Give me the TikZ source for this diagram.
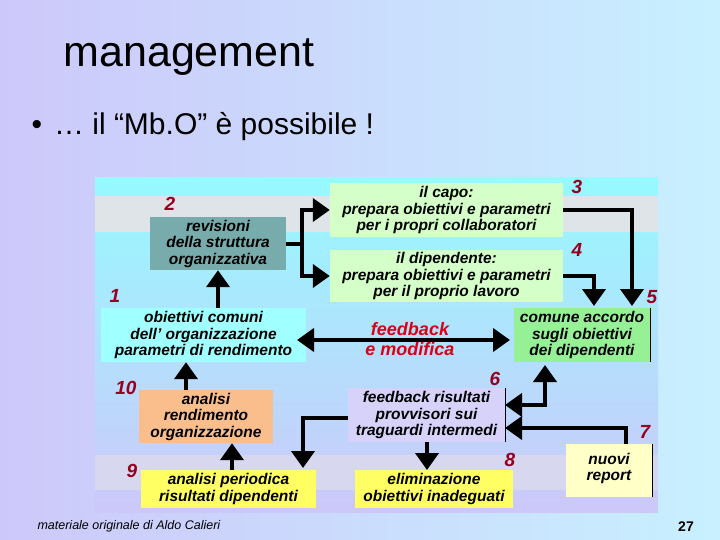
\documentclass[tikz,border=0pt]{standalone}
\usepackage{fontspec}
\setmainfont{Liberation Sans}
\usetikzlibrary{arrows.meta}
\definecolor{numc}{RGB}{150,0,30}
\definecolor{bgl}{RGB}{205,200,250}
\definecolor{bgr}{RGB}{200,240,255}
\definecolor{pt}{RGB}{150,250,255}
\definecolor{pb}{RGB}{205,200,250}
\definecolor{band1}{RGB}{222,228,232}
\definecolor{band2}{RGB}{215,215,240}
\definecolor{crev}{RGB}{120,172,172}
\definecolor{cgreen}{RGB}{212,255,200}
\definecolor{ccyan}{RGB}{160,255,255}
\definecolor{cacc}{RGB}{150,240,150}
\definecolor{cred}{RGB}{220,0,20}
\definecolor{corange}{RGB}{250,190,140}
\definecolor{clav}{RGB}{215,210,250}
\definecolor{cyel}{RGB}{255,255,100}
\definecolor{cpale}{RGB}{255,255,200}
\begin{document}
\begin{tikzpicture}[x=1pt,y=-1pt,
  bx/.style={inner sep=0pt,align=center,font=\bfseries\itshape\fontsize{15.5}{16.5}\selectfont},
  num/.style={text=numc,font=\bfseries\itshape\fontsize{19}{19}\selectfont},
  arr/.style={line width=4pt,-{Triangle[length=17pt,width=23pt]}},
  ln/.style={line width=4pt}]
\useasboundingbox (0,0) rectangle (720,540);
\shade[left color=bgl,right color=bgr] (0,0) rectangle (720,540);
% panel
\shade[top color=pt,bottom color=pb] (95,178) rectangle (658,512);
\fill[band1] (95,196) rectangle (658,232);
\fill[band2] (95,455) rectangle (658,490);
% text
\node[anchor=west,font=\fontsize{43}{43}\selectfont] (title) at (60,57) {management};
\node[anchor=west,font=\fontsize{30}{30}\selectfont] (bul) at (28,127) {•\hspace{12pt}… il “Mb.O” è possibile !};
\node[anchor=west,font=\itshape\fontsize{12.5}{13}\selectfont] (foot) at (34,526) {materiale originale di Aldo Calieri};
\node[font=\bfseries\fontsize{14}{14}\selectfont] (pg) at (686,527) {27};
% boxes
\node[bx,fill=crev,minimum width=136pt,minimum height=53pt] (rev) at (218,243.5) {revisioni\\della struttura\\organizzativa};
\node[bx,fill=cgreen,minimum width=233pt,minimum height=54pt] (capo) at (446.5,210) {il capo:\\prepara obiettivi e parametri\\per i propri collaboratori};
\node[bx,fill=cgreen,minimum width=233pt,minimum height=52pt] (dip) at (446.5,276) {il dipendente:\\prepara obiettivi e parametri\\per il proprio lavoro};
\node[bx,fill=ccyan,minimum width=205pt,minimum height=54pt] (obi) at (203.5,335) {obiettivi comuni\\dell’ organizzazione\\parametri di rendimento};
\node[bx,fill=cacc,minimum width=136pt,minimum height=54pt] (acc) at (582,335) {comune accordo\\sugli obiettivi\\dei dipendenti};
\draw[line width=1pt] (acc.north east) -- (acc.south east);
\node[bx,text=cred,font=\bfseries\itshape\fontsize{18}{20}\selectfont] (fbm) at (410,339) {feedback\\e modifica};
\node[bx,fill=corange,minimum width=134pt,minimum height=53pt] (anr) at (206,416.5) {analisi\\rendimento\\organizzazione};
\node[bx,fill=clav,minimum width=157pt,minimum height=54pt] (fbr) at (426.5,415) {feedback risultati\\provvisori sui\\traguardi intermedi};
\draw[line width=1pt] (fbr.north east) -- (fbr.south east);
\node[bx,fill=cyel,minimum width=175pt,minimum height=38pt] (anp) at (228.5,489) {analisi periodica\\risultati dipendenti};
\node[bx,fill=cyel,minimum width=158pt,minimum height=38pt] (eli) at (434,489) {eliminazione\\obiettivi inadeguati};
\node[fill=cpale,minimum width=86pt,minimum height=53pt,anchor=north,inner sep=0pt] (nuo) at (609,444) {};
\node[bx,anchor=north] (nuot) at (609,453) {nuovi\\report};
\draw[line width=1pt] (nuo.north east) -- (nuo.south east);
% numbers
\node[num] (n1) at (115,296) {1};
\node[num] (n2) at (170,204) {2};
\node[num] (n3) at (577,187) {3};
\node[num] (n4) at (577,250) {4};
\node[num] (n5) at (652,297) {5};
\node[num] (n6) at (495,379) {6};
\node[num] (n7) at (645,432) {7};
\node[num] (n8) at (510,460) {8};
\node[num] (n9) at (132,471) {9};
\node[num] (n10) at (126,388) {10};
% connectors
\coordinate (j) at (302,243.5);
\draw[ln] (rev.east) -- (j);
\draw[arr] (j) |- (capo.west);
\draw[arr] (j) |- (dip.west);
\draw[arr] (obi.north -| rev.south) -- (rev.south);
\coordinate (a3) at (632,306);
\coordinate (a4) at (594,306);
\draw[arr] (capo.east) -| (a3);
\draw[arr] (dip.east) -| (a4);
\coordinate (fl) at (297,340);
\coordinate (fr) at (510,340);
\draw[line width=4pt,{Triangle[length=17pt,width=23pt]}-{Triangle[length=17pt,width=23pt]}] (fl) -- (fr);
\draw[arr] (anr.north -| 186,0) -- (obi.south -| 186,0);
\draw[arr] (anp.north -| 232,0) -- (anr.south -| 232,0);
\coordinate (p1) at (303,468);
\draw[arr] ([yshift=-3pt]fbr.west) -| (p1);
\coordinate (p2) at (427,470);
\draw[arr] (fbr.south -| p2) -- (p2);
\coordinate (e6) at (545,405);
\coordinate (e6t) at (545,365);
\coordinate (e6l) at (505,405);
\draw[arr] (e6) -- (e6l);
\draw[arr] (e6) -- (e6t);
\draw[line width=4pt] (e6l -| 530,0) -- (e6) -- (545,390);
\coordinate (e7) at (505,428);
\draw[arr] ([xshift=17pt]nuo.north) |- (e7);
\end{tikzpicture}
\end{document}
